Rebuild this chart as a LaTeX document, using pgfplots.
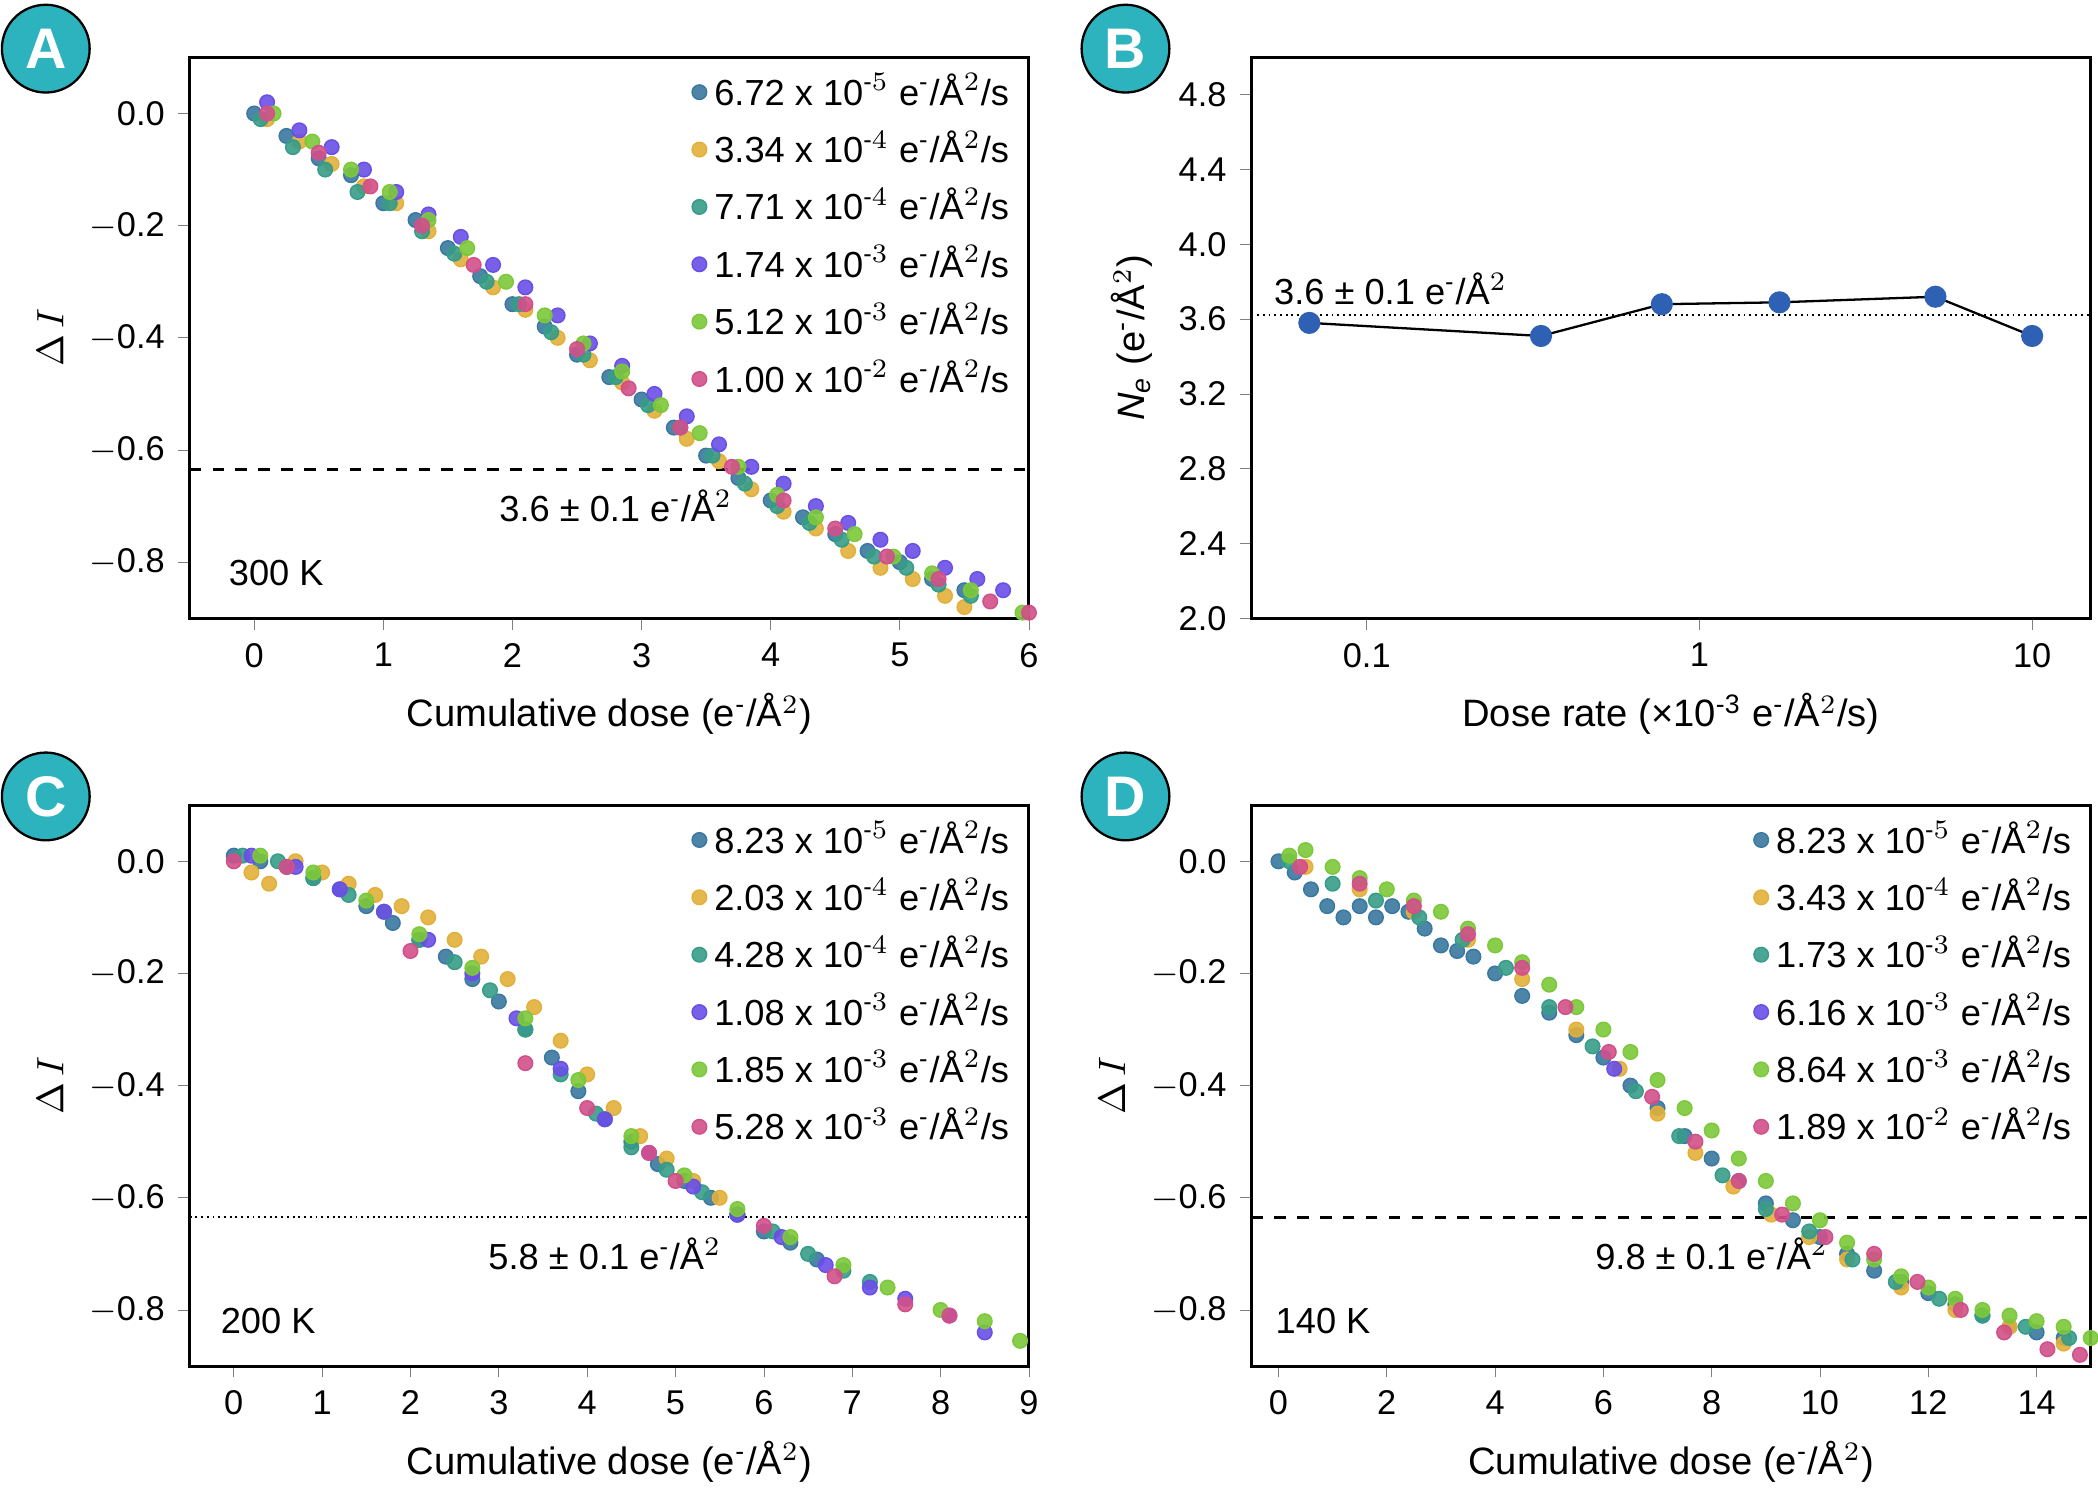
\documentclass[border=0pt]{standalone}
\usepackage{amsmath}
\usepackage{pgfplots}
\pgfplotsset{compat=1.18}
\usepackage{fontspec}
\setmainfont{Liberation Sans}
\definecolor{cB}{HTML}{3A78A0}
\definecolor{cY}{HTML}{E2B03A}
\definecolor{cT}{HTML}{379C88}
\definecolor{cP}{HTML}{6A4FE6}
\definecolor{cG}{HTML}{7CC83A}
\definecolor{cK}{HTML}{D2508A}
\definecolor{badge}{HTML}{2DB3BE}
\newcommand{\rate}[2]{#1 x 10$^{\text{-}#2}$ e$^{\text{-}}$/Å$^2$/s}
\pgfplotsset{
 base/.style={scale only axis, width=220pt, height=147pt, tick align=outside,
  xtick pos=bottom, ytick pos=left, /pgf/number format/assume math mode=true,
  tick label style={font=\fontsize{9}{10}\selectfont}, label style={font=\fontsize{10}{11}\selectfont},
  major tick length=3pt, axis line style={line width=0.8pt}},
 sc/.style={color=#1, only marks, mark=*, mark size=1.9pt, mark options={draw=none, fill=#1, fill opacity=0.9}},
 leg/.style={legend style={draw=none, fill=none, at={(1,1)}, anchor=north east, font=\fontsize{9.5}{10}\selectfont, row sep=1.2pt}, legend cell align=left},
 ytk/.style={ymin=-0.9, ymax=0.1, ytick={-0.8,-0.6,-0.4,-0.2,0}, yticklabels={$-$0.8,$-$0.6,$-$0.4,$-$0.2,0.0}, ylabel={$\Delta\, I$}},
}
\newcommand{\badge}[3]{\node[circle, fill=badge, draw=black, line width=0.6pt, minimum size=23pt, inner sep=0pt, text=white, font=\bfseries\fontsize{15}{15}\selectfont] at (#1,#2) {#3};}
\begin{document}
\begin{tikzpicture}
\path (0,0) rectangle (549.3pt,386.75pt);
% A
\begin{axis}[base, ytk, leg, at={(49.7pt,224.7pt)}, anchor=south west, xmin=-0.5, xmax=6, xtick={0,...,6}, xlabel={Cumulative dose (e$^{\text{-}}$/Å$^2$)}]
\addplot[sc=cB] coordinates {(0,0)(0.25,-0.04)(0.5,-0.08)(0.75,-0.11)(1,-0.16)(1.25,-0.19)(1.5,-0.24)(1.75,-0.29)(2,-0.34)(2.25,-0.38)(2.5,-0.43)(2.75,-0.47)(3,-0.51)(3.25,-0.56)(3.5,-0.61)(3.75,-0.65)(4,-0.69)(4.25,-0.72)(4.5,-0.75)(4.75,-0.78)(5,-0.80)(5.25,-0.83)(5.5,-0.85)};
\addlegendentry{\rate{6.72}{5}}
\addplot[sc=cY] coordinates {(0.1,-0.01)(0.35,-0.05)(0.6,-0.09)(0.85,-0.13)(1.1,-0.16)(1.35,-0.21)(1.6,-0.26)(1.85,-0.31)(2.1,-0.35)(2.35,-0.40)(2.6,-0.44)(2.85,-0.48)(3.1,-0.53)(3.35,-0.58)(3.6,-0.62)(3.85,-0.67)(4.1,-0.71)(4.35,-0.74)(4.6,-0.78)(4.85,-0.81)(5.1,-0.83)(5.35,-0.86)(5.5,-0.88)};
\addlegendentry{\rate{3.34}{4}}
\addplot[sc=cT] coordinates {(0.05,-0.01)(0.3,-0.06)(0.55,-0.1)(0.8,-0.14)(1.05,-0.16)(1.3,-0.21)(1.55,-0.25)(1.8,-0.3)(2.05,-0.34)(2.3,-0.39)(2.55,-0.43)(2.8,-0.47)(3.05,-0.52)(3.3,-0.56)(3.55,-0.61)(3.8,-0.66)(4.05,-0.7)(4.3,-0.73)(4.55,-0.76)(4.8,-0.79)(5.05,-0.81)(5.3,-0.84)(5.55,-0.86)};
\addlegendentry{\rate{7.71}{4}}
\addplot[sc=cP] coordinates {(0.1,0.02)(0.35,-0.03)(0.6,-0.06)(0.85,-0.1)(1.1,-0.14)(1.35,-0.18)(1.6,-0.22)(1.85,-0.27)(2.1,-0.31)(2.35,-0.36)(2.6,-0.41)(2.85,-0.45)(3.1,-0.5)(3.35,-0.54)(3.6,-0.59)(3.85,-0.63)(4.1,-0.66)(4.35,-0.7)(4.6,-0.73)(4.85,-0.76)(5.1,-0.78)(5.35,-0.81)(5.6,-0.83)(5.8,-0.85)};
\addlegendentry{\rate{1.74}{3}}
\addplot[sc=cG] coordinates {(0.15,0)(0.45,-0.05)(0.75,-0.1)(1.05,-0.14)(1.35,-0.19)(1.65,-0.24)(1.95,-0.3)(2.25,-0.36)(2.55,-0.41)(2.85,-0.46)(3.15,-0.52)(3.45,-0.57)(3.75,-0.63)(4.05,-0.68)(4.35,-0.72)(4.65,-0.75)(4.95,-0.79)(5.25,-0.82)(5.55,-0.85)(5.95,-0.89)};
\addlegendentry{\rate{5.12}{3}}
\addplot[sc=cK] coordinates {(0.1,0)(0.5,-0.07)(0.9,-0.13)(1.3,-0.2)(1.7,-0.27)(2.1,-0.34)(2.5,-0.42)(2.9,-0.49)(3.3,-0.56)(3.7,-0.63)(4.1,-0.69)(4.5,-0.74)(4.9,-0.79)(5.3,-0.83)(5.7,-0.87)(6,-0.89)};
\addlegendentry{\rate{1.00}{2}}
\addplot[black, dashed, line width=0.6pt, forget plot] coordinates {(-0.5,-0.635)(6,-0.635)};
\node[font=\fontsize{9.5}{10}\selectfont] at (axis cs:2.8,-0.7) {3.6 ± 0.1 e$^{\text{-}}$/Å$^2$};
\node[font=\fontsize{9.5}{10}\selectfont, anchor=west] at (axis cs:-0.3,-0.82) {300 K};
\end{axis}
% B
\begin{axis}[base, at={(328pt,224.7pt)}, anchor=south west, xmode=log, xmin=0.045, xmax=15, xtick={0.1,1,10}, xticklabels={0.1,1,10}, xminorticks=false, ymin=2, ymax=5, ytick={2,2.4,...,4.81}, yticklabel style={/pgf/number format/.cd, fixed, fixed zerofill, precision=1}, xlabel={Dose rate (×10$^{\text{-3}}$ e$^{\text{-}}$/Å$^2$/s)}, ylabel={\textit{N}\textsubscript{\textit{e}} (e$^{\text{-}}$/Å$^2$)}]
\addplot[black, densely dotted, line width=0.5pt] coordinates {(0.045,3.62)(15,3.62)};
\addplot[black, line width=0.6pt, mark=*, mark size=2.6pt, mark options={fill=cB!80!blue, draw=cB!80!blue}] coordinates {(0.0672,3.58)(0.334,3.51)(0.771,3.68)(1.74,3.69)(5.12,3.72)(10,3.51)};
\node[font=\fontsize{9.5}{10}\selectfont, anchor=west] at (axis cs:0.048,3.76) {3.6 ± 0.1 e$^{\text{-}}$/Å$^2$};
\end{axis}
% C
\begin{axis}[base, ytk, leg, at={(49.7pt,28.7pt)}, anchor=south west, xmin=-0.5, xmax=9, xtick={0,...,9}, xlabel={Cumulative dose (e$^{\text{-}}$/Å$^2$)}]
\addplot[sc=cB] coordinates {(0,0.01)(0.3,0)(0.6,-0.01)(0.9,-0.03)(1.2,-0.05)(1.5,-0.08)(1.8,-0.11)(2.1,-0.14)(2.4,-0.17)(2.7,-0.21)(3,-0.25)(3.3,-0.3)(3.6,-0.35)(3.9,-0.41)(4.2,-0.46)(4.5,-0.5)(4.8,-0.54)(5.1,-0.57)(5.4,-0.6)(5.7,-0.63)(6,-0.66)(6.3,-0.68)(6.6,-0.71)};
\addlegendentry{\rate{8.23}{5}}
\addplot[sc=cY] coordinates {(0.2,-0.02)(0.4,-0.04)(0.7,0)(1,-0.02)(1.3,-0.04)(1.6,-0.06)(1.9,-0.08)(2.2,-0.1)(2.5,-0.14)(2.8,-0.17)(3.1,-0.21)(3.4,-0.26)(3.7,-0.32)(4,-0.38)(4.3,-0.44)(4.6,-0.49)(4.9,-0.53)(5.2,-0.57)(5.5,-0.6)};
\addlegendentry{\rate{2.03}{4}}
\addplot[sc=cT] coordinates {(0.1,0.01)(0.5,0)(0.9,-0.03)(1.3,-0.06)(1.7,-0.09)(2.1,-0.14)(2.5,-0.18)(2.9,-0.23)(3.3,-0.3)(3.7,-0.38)(4.1,-0.45)(4.5,-0.51)(4.9,-0.55)(5.3,-0.59)(5.7,-0.63)(6.1,-0.66)(6.5,-0.7)(6.9,-0.73)(7.2,-0.75)};
\addlegendentry{\rate{4.28}{4}}
\addplot[sc=cP] coordinates {(0.2,0.01)(0.7,-0.01)(1.2,-0.05)(1.7,-0.09)(2.2,-0.14)(2.7,-0.2)(3.2,-0.28)(3.7,-0.37)(4.2,-0.46)(4.7,-0.52)(5.2,-0.58)(5.7,-0.63)(6.2,-0.67)(6.7,-0.72)(7.2,-0.76)(7.6,-0.78)(8.1,-0.81)(8.5,-0.84)};
\addlegendentry{\rate{1.08}{3}}
\addplot[sc=cG] coordinates {(0.3,0.01)(0.9,-0.02)(1.5,-0.07)(2.1,-0.13)(2.7,-0.19)(3.3,-0.28)(3.9,-0.39)(4.5,-0.49)(5.1,-0.56)(5.7,-0.62)(6.3,-0.67)(6.9,-0.72)(7.4,-0.76)(8,-0.8)(8.5,-0.82)(8.9,-0.855)};
\addlegendentry{\rate{1.85}{3}}
\addplot[sc=cK] coordinates {(0,0)(0.6,-0.01)(2,-0.16)(3.3,-0.36)(4,-0.44)(4.7,-0.52)(5,-0.57)(6,-0.65)(6.8,-0.74)(7.6,-0.79)(8.1,-0.81)};
\addlegendentry{\rate{5.28}{3}}
\addplot[black, densely dotted, line width=0.5pt, forget plot] coordinates {(-0.5,-0.635)(9,-0.635)};
\node[font=\fontsize{9.5}{10}\selectfont] at (axis cs:4.2,-0.7) {5.8 ± 0.1 e$^{\text{-}}$/Å$^2$};
\node[font=\fontsize{9.5}{10}\selectfont, anchor=west] at (axis cs:-0.3,-0.82) {200 K};
\end{axis}
% D
\begin{axis}[base, ytk, leg, at={(328pt,28.7pt)}, anchor=south west, xmin=-0.5, xmax=15, xtick={0,2,...,14}, xlabel={Cumulative dose (e$^{\text{-}}$/Å$^2$)}]
\addplot[sc=cB] coordinates {(0,0)(0.3,-0.02)(0.6,-0.05)(0.9,-0.08)(1.2,-0.1)(1.5,-0.08)(1.8,-0.1)(2.1,-0.08)(2.4,-0.09)(2.7,-0.12)(3,-0.15)(3.3,-0.16)(3.6,-0.17)(4,-0.2)(4.5,-0.24)(5,-0.27)(5.5,-0.31)(6,-0.35)(6.5,-0.4)(7,-0.44)(7.5,-0.49)(8,-0.53)(8.5,-0.57)(9,-0.61)(9.5,-0.64)(10,-0.67)(10.5,-0.7)(11,-0.73)(11.5,-0.75)(12,-0.77)(12.5,-0.79)(13,-0.81)(13.5,-0.83)(14,-0.84)(14.5,-0.85)};
\addlegendentry{\rate{8.23}{5}}
\addplot[sc=cY] coordinates {(0.5,-0.01)(1.5,-0.05)(2.5,-0.09)(3.5,-0.14)(4.5,-0.21)(5.5,-0.3)(6.3,-0.37)(7,-0.45)(7.7,-0.52)(8.4,-0.58)(9.1,-0.63)(9.8,-0.67)(10.5,-0.71)(11.5,-0.76)(12.5,-0.8)(13.5,-0.83)(14.5,-0.86)};
\addlegendentry{\rate{3.43}{4}}
\addplot[sc=cT] coordinates {(0.2,0)(1,-0.04)(1.8,-0.07)(2.6,-0.1)(3.4,-0.14)(4.2,-0.19)(5,-0.26)(5.8,-0.33)(6.6,-0.41)(7.4,-0.49)(8.2,-0.56)(9,-0.62)(9.8,-0.66)(10.6,-0.71)(11.4,-0.75)(12.2,-0.78)(13,-0.81)(13.8,-0.83)(14.6,-0.85)};
\addlegendentry{\rate{1.73}{3}}
\addplot[sc=cP] coordinates {(6.2,-0.37)};
\addlegendentry{\rate{6.16}{3}}
\addplot[sc=cG] coordinates {(0.2,0.01)(0.5,0.02)(1,-0.01)(1.5,-0.03)(2,-0.05)(2.5,-0.07)(3,-0.09)(3.5,-0.12)(4,-0.15)(4.5,-0.18)(5,-0.22)(5.5,-0.26)(6,-0.3)(6.5,-0.34)(7,-0.39)(7.5,-0.44)(8,-0.48)(8.5,-0.53)(9,-0.57)(9.5,-0.61)(10,-0.64)(10.5,-0.68)(11,-0.71)(11.5,-0.74)(12,-0.76)(12.5,-0.78)(13,-0.8)(13.5,-0.81)(14,-0.82)(14.5,-0.83)(15,-0.85)};
\addlegendentry{\rate{8.64}{3}}
\addplot[sc=cK] coordinates {(0.4,-0.01)(1.5,-0.04)(2.5,-0.08)(3.5,-0.13)(4.5,-0.19)(5.3,-0.26)(6.1,-0.34)(6.9,-0.42)(7.7,-0.5)(8.5,-0.57)(9.3,-0.63)(10.1,-0.67)(11,-0.7)(11.8,-0.75)(12.6,-0.8)(13.4,-0.84)(14.2,-0.87)(14.8,-0.88)};
\addlegendentry{\rate{1.89}{2}}
\addplot[black, dashed, line width=0.6pt, forget plot] coordinates {(-0.5,-0.635)(15,-0.635)};
\node[font=\fontsize{9.5}{10}\selectfont] at (axis cs:8,-0.7) {9.8 ± 0.1 e$^{\text{-}}$/Å$^2$};
\node[font=\fontsize{9.5}{10}\selectfont, anchor=west] at (axis cs:-0.3,-0.82) {140 K};
\end{axis}
\badge{12pt}{374pt}{A}
\badge{295pt}{374pt}{B}
\badge{12pt}{178pt}{C}
\badge{295pt}{178pt}{D}
\end{tikzpicture}
\end{document}
